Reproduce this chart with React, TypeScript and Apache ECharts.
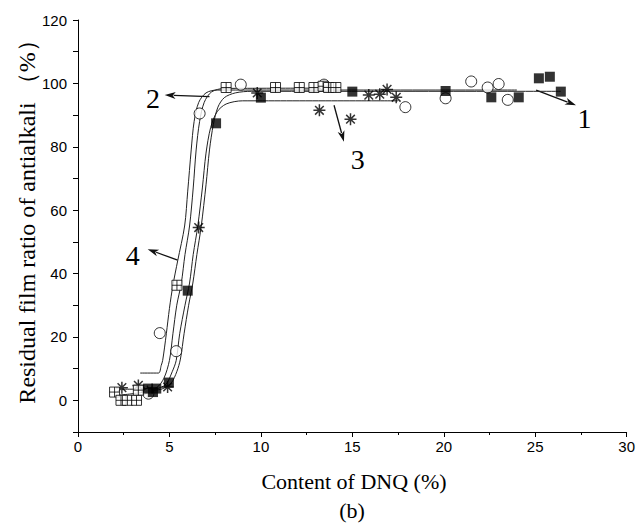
import React, { useEffect, useRef } from "react";
import * as echarts from "echarts";

// ---- measured points (x = DNQ content %, y = residual film ratio %) ----
const series1Squares: [number, number][] = [
  [3.83, 3.7], [4.1, 2.6], [4.28, 3.7], [4.97, 5.6], [6.0, 34.6], [7.55, 87.4],
  [10.0, 95.5], [15.0, 97.4], [20.1, 97.6], [22.6, 95.6], [24.1, 95.6],
  [25.2, 101.6], [25.8, 102.1], [26.4, 97.4],
];
const series2CrossSquares: [number, number][] = [
  [2.0, 2.6], [2.35, 0.0], [2.7, 0.0], [3.2, 0.0], [3.3, 3.2], [5.41, 36.3],
  [8.1, 98.7], [10.8, 98.7], [12.1, 98.7], [12.9, 98.7], [13.4, 99.1],
  [13.7, 98.7], [14.1, 98.7],
];
const series3Stars: [number, number][] = [
  [2.4, 4.0], [3.3, 4.7], [3.8, 2.8], [4.9, 4.2], [6.6, 54.5], [9.8, 97.0],
  [13.2, 91.5], [14.9, 88.7], [15.9, 96.3], [16.5, 96.6], [16.9, 98.1], [17.4, 95.6],
];
const series4Circles: [number, number][] = [
  [3.85, 2.1], [4.47, 21.2], [5.37, 15.5], [6.65, 90.5], [8.9, 99.6],
  [13.45, 99.6], [17.9, 92.5], [20.1, 95.3], [21.5, 100.6], [22.4, 98.7],
  [23.0, 99.8], [23.5, 94.8],
];

// ---- fitted curves ----
const curve1: [number, number][] = [
  [3.8, 3.0], [4.6, 3.6], [5.1, 5.5], [5.4, 9], [5.6, 13], [5.8, 21], [6.05, 30],
  [6.28, 37], [6.5, 46], [6.74, 55], [7.0, 68], [7.19, 79], [7.4, 87], [7.65, 92.5],
  [8.0, 95.5], [8.6, 97], [9.5, 97.5], [26.4, 97.5],
];
const curve2: [number, number][] = [
  [2.0, 1.5], [3.5, 2.5], [4.3, 4], [4.7, 7], [5.0, 12.6], [5.19, 21], [5.4, 30],
  [5.65, 37], [5.85, 46], [6.1, 55], [6.3, 67], [6.46, 79], [6.65, 88], [6.9, 94],
  [7.3, 97.3], [8.0, 98.4], [14.3, 98.5],
];
const curve3: [number, number][] = [
  [2.4, 3.5], [4.2, 3.6], [4.8, 5], [5.15, 9], [5.37, 12.6], [5.56, 21], [5.85, 30],
  [6.1, 37], [6.3, 46], [6.55, 55], [6.8, 67], [7.0, 78], [7.25, 86], [7.6, 91],
  [8.1, 93.5], [9.0, 94.5], [17.5, 94.5],
];
const curve4: [number, number][] = [
  [3.4, 8.6], [4.4, 8.6], [4.55, 11], [4.63, 12.6], [4.83, 21], [5.0, 29],
  [5.19, 36.3], [5.45, 44], [5.83, 55], [6.0, 66], [6.19, 79], [6.35, 88],
  [6.6, 94], [7.0, 97], [7.6, 97.9], [24.0, 97.9],
];

// ---- annotation arrows [from, to] and labels ----
const arrows: [[number, number], [number, number]][] = [
  [[25.05, 97.9], [27.23, 93.1]],
  [[7.19, 95.8], [4.74, 96.3]],
  [[14.0, 93.1], [14.54, 81.6]],
  [[5.45, 44.2], [3.81, 47.7]],
];
const curveLabels = ["1", "2", "3", "4"];
const curveLabelPos: [number, number][] = [
  [27.7, 89.0], [4.1, 95.3], [15.3, 76.0], [3.0, 45.8],
];

const yTickLabels = [0, 20, 40, 60, 80, 100, 120];

const crossSquare = "path://M0,0L10,0L10,10L0,10Z M5,0L5,10 M0,5L10,5";
const asterisk = "path://M5,0L5,10 M0,5L10,5 M1.4,1.4L8.6,8.6 M8.6,1.4L1.4,8.6";

export default function App() {
  const ref = useRef<HTMLDivElement>(null);
  useEffect(() => {
    const chart = echarts.init(ref.current!, null, { renderer: "svg" });
    const lineSeries = (data: [number, number][]) => ({
      type: "line",
      data,
      showSymbol: false,
      smooth: 0.3,
      lineStyle: { color: "#222", width: 1 },
      z: 2,
      silent: true,
    });
    const option: any = {
      animation: false,
      backgroundColor: "#fff",
      grid: { left: 78, right: 9, top: 20, bottom: 92 },
      xAxis: {
        type: "value",
        min: 0,
        max: 30,
        interval: 5,
        axisLine: { onZero: false, lineStyle: { color: "#000", width: 1 } },
        axisTick: { length: 5, lineStyle: { color: "#000" } },
        minorTick: { show: true, splitNumber: 2, length: 3, lineStyle: { color: "#000" } },
        splitLine: { show: false },
        axisLabel: { color: "#000", fontFamily: "Liberation Sans", fontSize: 15, margin: 7 },
      },
      yAxis: {
        type: "value",
        min: -10,
        max: 120,
        interval: 10,
        axisLine: { show: true, onZero: false, lineStyle: { color: "#000", width: 1 } },
        axisTick: { length: 5, lineStyle: { color: "#000" } },
        splitLine: { show: false },
        axisLabel: {
          color: "#000",
          fontFamily: "Liberation Sans",
          fontSize: 15,
          margin: 11,
          formatter: (v: number) => (yTickLabels.includes(v) ? String(v) : ""),
        },
      },
      series: [
        lineSeries(curve1),
        lineSeries(curve2),
        lineSeries(curve3),
        lineSeries(curve4),
        {
          type: "scatter",
          data: series3Stars,
          symbol: asterisk,
          symbolSize: 12,
          itemStyle: { color: "#000", borderColor: "#000", borderWidth: 1.5 },
          z: 3,
        },
        {
          type: "scatter",
          data: series4Circles,
          symbol: "circle",
          symbolSize: 11,
          itemStyle: { color: "#fff", borderColor: "#000", borderWidth: 1 },
          z: 4,
        },
        {
          type: "scatter",
          data: series2CrossSquares,
          symbol: crossSquare,
          symbolSize: 10,
          itemStyle: { color: "#fff", borderColor: "#000", borderWidth: 1 },
          z: 5,
        },
        {
          type: "scatter",
          data: series1Squares,
          symbol: "rect",
          symbolSize: 10,
          itemStyle: { color: "#000" },
          z: 6,
        },
      ],
    };
    chart.setOption(option);
    const px = (p: [number, number]) => chart.convertToPixel({ gridIndex: 0 }, p) as number[];
    const labelGraphics = curveLabels.map((t, i) => {
      const p = px(curveLabelPos[i]);
      return {
        type: "text",
        x: p[0],
        y: p[1],
        style: {
          text: t,
          font: "28px 'Liberation Serif'",
          fill: "#000",
          align: "center",
          verticalAlign: "middle",
        },
      };
    });
    const arrowGraphics: any[] = [];
    arrows.forEach(([a, b]) => {
      const pa = px(a);
      const pb = px(b);
      const dx = pb[0] - pa[0];
      const dy = pb[1] - pa[1];
      const len = Math.hypot(dx, dy);
      const ux = dx / len;
      const uy = dy / len;
      const hl = 11;
      const hw = 3.5;
      const bx = pb[0] - ux * hl;
      const by = pb[1] - uy * hl;
      arrowGraphics.push({
        type: "line",
        shape: { x1: pa[0], y1: pa[1], x2: bx + ux * 2, y2: by + uy * 2 },
        style: { stroke: "#111", lineWidth: 1.3 },
      });
      arrowGraphics.push({
        type: "polygon",
        shape: {
          points: [
            [pb[0], pb[1]],
            [bx - uy * hw, by + ux * hw],
            [bx + ux * 3, by + uy * 3],
            [bx + uy * hw, by - ux * hw],
          ],
        },
        style: { fill: "#111" },
      });
    });
    chart.setOption({
      graphic: [
        ...arrowGraphics,
        ...labelGraphics,
        {
          type: "text",
          x: 27,
          y: 216,
          rotation: Math.PI / 2,
          style: {
            text: "Residual film ratio of antialkali （%）",
            font: "24px 'Liberation Serif'",
            fill: "#000",
            align: "center",
            verticalAlign: "middle",
          },
        },
        {
          type: "text",
          x: 354,
          y: 481,
          style: {
            text: "Content of DNQ (%)",
            font: "22px 'Liberation Serif'",
            fill: "#000",
            align: "center",
            verticalAlign: "middle",
          },
        },
        {
          type: "text",
          x: 352,
          y: 510,
          style: {
            text: "(b)",
            font: "22px 'Liberation Serif'",
            fill: "#000",
            align: "center",
            verticalAlign: "middle",
          },
        },
      ],
    });
    return () => chart.dispose();
  }, []);
  return (
    <div
      ref={ref}
      style={{ position: "absolute", left: 0, top: 0, width: 638, height: 524, background: "#fff" }}
    />
  );
}
